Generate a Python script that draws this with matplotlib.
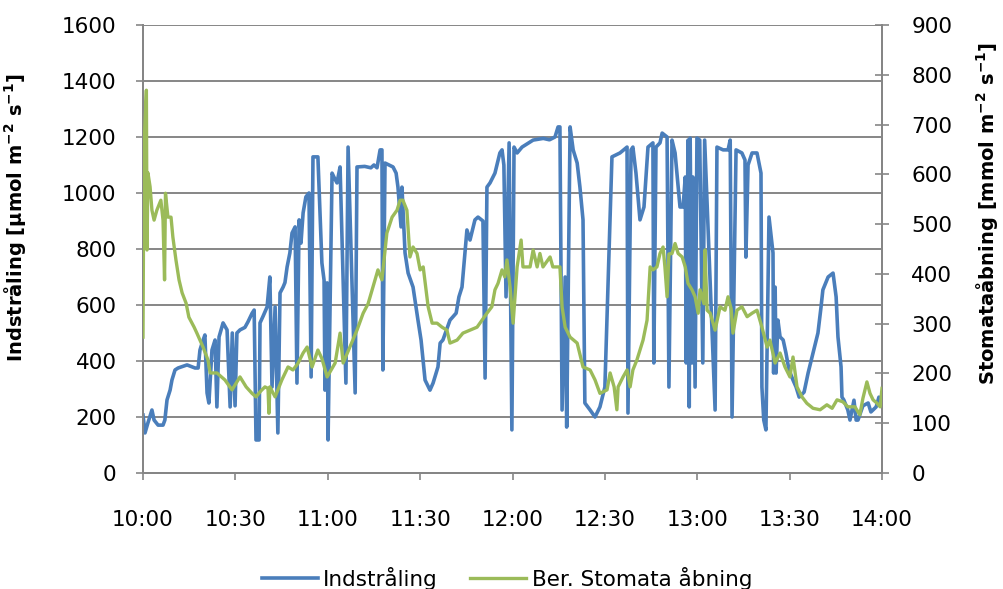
import matplotlib
matplotlib.use("Agg")
import matplotlib.pyplot as plt
from matplotlib.ticker import FixedLocator

# minutes after 10:00
blue_t = [0.0, 0.65, 1.6, 2.9, 3.6, 4.9, 6.5, 7.1, 7.8, 8.8, 9.4, 10.4, 11.4, 14.3, 16.9, 17.9,
          18.5, 19.2, 20.1, 20.8, 21.4, 22.4, 23.4, 24.0, 24.7, 26.0, 27.3, 28.3, 29.0, 29.9, 30.5,
          31.5, 33.1, 34.1, 35.4, 36.1, 36.7, 37.7, 38.0, 39.0, 40.3, 41.2, 41.9, 42.9, 43.8, 44.5,
          45.5, 46.1, 46.8, 47.7, 48.4, 49.4, 50.0, 50.7, 51.3, 52.0, 52.9, 53.9, 54.6, 55.2, 56.8,
          58.1, 58.8, 59.1, 59.8, 60.1, 61.4, 62.0, 63.0, 64.0, 65.9, 66.6, 68.9, 69.5, 72.0, 74.0,
          75.0, 76.0, 77.0, 77.6, 77.9, 78.6, 81.2, 82.2, 82.8, 83.8, 84.1, 85.1, 86.1, 87.7, 89.3,
          90.3, 91.6, 93.2, 94.2, 95.8, 96.5, 97.4, 99.7, 101.7, 102.6, 103.6, 105.2, 106.2, 107.8,
          108.8, 110.4, 111.1, 111.7, 112.7, 114.3, 115.9, 116.6, 117.2, 117.9, 118.9, 119.8, 120.5,
          121.5, 123.1, 126.7, 130.0, 132.0, 133.8, 134.8, 135.4, 136.1, 137.1, 137.6, 138.7, 139.7,
          141.0, 141.9, 142.9, 143.5, 145.2, 146.8, 148.4, 150.0, 152.3, 154.9, 157.2, 157.5, 158.5,
          159.1, 160.1, 161.4, 162.7, 164.0, 165.6, 165.9, 166.6, 167.9, 168.6, 170.2, 170.8, 171.8,
          172.8, 174.4, 175.4, 176.1, 176.4, 177.0, 177.4, 177.7, 178.3, 178.6, 179.3, 179.9, 180.8,
          181.8, 182.4, 185.8, 186.4, 188.4, 190.0, 190.7, 191.3, 192.6, 194.5, 195.5, 195.8, 196.5,
          197.8, 199.4, 200.7, 201.0, 201.6, 202.3, 203.3, 204.6, 204.8, 205.3, 205.6, 206.2, 206.9,
          207.9, 208.8, 209.8, 211.1, 212.1, 213.1, 214.7, 216.0, 217.6, 219.2, 220.2, 220.8, 222.5,
          224.1, 225.1, 225.7, 226.7, 227.0, 227.6, 228.9, 229.6, 230.9, 231.6, 232.2, 233.8, 235.5,
          236.4, 238.1, 239.0, 240.0]
blue_v = [207, 143, 179, 225, 189, 171, 171, 189, 261, 296, 332, 368, 375, 386, 375, 375,
          439, 464, 493, 286, 250, 439, 475, 236, 486, 536, 511, 236, 500, 240, 500,
          511, 520, 540, 570, 582, 118, 118, 536, 560, 593, 700, 307, 593, 143, 643,
          664, 680, 736, 786, 857, 879, 321, 904, 821, 929, 986, 1000, 343, 1129, 1129,
          750, 689, 296, 679, 118, 1071, 1057, 1036, 1093, 321, 1164, 286, 1093, 1095, 1090,
          1100, 1090, 1154, 1154, 368, 1107, 1093, 1071, 1021, 879, 1021, 786, 714, 664, 546,
          475, 332, 296, 321, 379, 464, 475, 546, 571, 629, 664, 868, 832, 904,
          914, 900, 339, 1021, 1036, 1071, 1143, 1154, 1100, 629, 1179, 154, 1164,
          1143, 1164, 1189, 1195, 1190, 1200, 1236, 1236, 225, 700, 164, 1236, 1154,
          1107, 1021, 904, 250, 225, 200, 236, 307, 1129, 1143, 1164, 214, 1154,
          1164, 1071, 904, 950, 1164, 1179, 393, 1164, 1179, 1214, 1200, 307, 1189,
          1143, 950, 950, 1057, 393, 1189, 236, 1196, 393, 1057, 307, 1196, 1189,
          393, 1189, 225, 1164, 1154, 1154, 1189, 200, 1154, 1143, 1118, 771, 1100,
          1143, 1143, 1071, 307, 189, 154, 914, 786, 357, 664, 357, 546, 486,
          475, 429, 368, 332, 307, 271, 289, 357, 429, 500, 593, 654, 700,
          714, 629, 486, 379, 271, 261, 225, 189, 260, 189, 189, 240, 250,
          218, 236, 271, 260]

green_t = [0.0, 0.3, 1.1, 1.3, 1.6, 2.3, 2.9, 3.6, 4.5, 5.8, 6.5, 7.0, 7.3, 8.1, 9.1, 9.7, 10.7,
           11.7, 12.7, 14.0, 14.9, 16.6, 17.5, 19.5, 21.1, 21.8, 24.0, 26.6, 28.9, 30.2, 31.5, 33.5,
           35.4, 36.7, 38.3, 39.6, 40.6, 40.9, 41.2, 42.9, 45.1, 47.1, 48.7, 50.3, 52.0, 53.3, 54.9,
           56.8, 58.1, 59.8, 62.4, 64.0, 65.0, 67.2, 69.5, 71.5, 73.1, 74.7, 76.3, 77.6, 79.2, 80.9,
           82.5, 83.5, 84.4, 85.7, 86.7, 87.7, 89.0, 90.0, 91.0, 92.6, 93.9, 95.5, 97.1, 98.7, 99.7,
           102.0, 103.9, 106.2, 108.5, 110.1, 111.7, 113.3, 114.3, 115.3, 116.6, 117.5, 118.2, 119.2,
           120.2, 121.5, 122.8, 123.4, 125.7, 126.7, 128.0, 128.9, 129.9, 132.2, 133.1, 135.4, 136.1,
           137.1, 138.7, 141.0, 142.9, 145.2, 146.8, 148.4, 150.7, 151.7, 153.0, 153.9, 154.3, 155.9,
           157.2, 158.2, 159.1, 160.4, 161.4, 162.4, 163.7, 164.7, 165.6, 166.9, 167.9, 168.9, 169.5,
           170.2, 170.8, 171.8, 172.8, 173.8, 175.1, 176.1, 177.0, 178.3, 179.3, 180.3, 180.9, 182.2,
           182.5, 183.2, 184.2, 185.8, 187.4, 189.0, 190.0, 191.0, 191.6, 192.9, 194.5, 196.2, 197.8,
           199.4, 201.0, 202.7, 203.6, 205.3, 206.9, 208.5, 210.1, 211.1, 212.4, 214.0, 215.6, 217.6,
           219.9, 222.1, 223.8, 225.4, 227.3, 228.9, 231.2, 232.8, 233.8, 235.1, 236.1, 237.1, 238.4,
           239.4, 240.0]
green_v = [273, 649, 769, 448, 603, 575, 528, 508, 528, 548, 508, 388, 562, 514, 514, 474, 428,
           388, 362, 341, 313, 293, 281, 253, 227, 201, 201, 187, 167, 180, 193, 173,
           160, 153, 165, 173, 170, 120, 173, 153, 187, 213, 207, 220, 241, 253, 213,
           247, 230, 193, 221, 281, 221, 253, 287, 321, 340, 374, 408, 388, 482, 514,
           528, 548, 548, 528, 434, 454, 441, 408, 414, 334, 301, 301, 293, 287, 261,
           267, 281, 287, 293, 307, 321, 334, 368, 381, 408, 394, 428, 374,
           301, 414, 468, 414, 414, 448, 414, 441, 414, 434, 414, 414, 334,
           293, 273, 261, 213, 207, 187, 160, 167, 201, 173, 127, 173, 193,
           207, 173, 207, 227, 247, 267, 307, 414, 408, 414, 441, 454, 414,
           354, 440, 441, 461, 441, 434, 414, 381, 368, 354, 321, 368, 340,
           448, 327, 321, 287, 334, 327, 354, 330, 281, 327, 334, 314, 321,
           327, 293, 253, 267, 221, 241, 213, 193, 233, 173, 153, 140, 130,
           127, 137, 130, 147, 143, 133, 133, 117, 150, 183, 160, 147, 140,
           133, 170]

x_ticks = [0, 30, 60, 90, 120, 150, 180, 210, 240]
x_labels = ["10:00", "10:30", "11:00", "11:30", "12:00", "12:30", "13:00", "13:30", "14:00"]
left_ticks = list(range(0, 1601, 200))
right_ticks = list(range(0, 901, 100))

BLUE = "#4A7EBB"
GREEN = "#9BBB59"
GRID = "#868686"
FS = 15.5

plt.rcParams['font.family'] = ['DejaVu Sans']

fig = plt.figure(figsize=(10.04, 5.89), dpi=100)
ax = fig.add_axes([143/1004, 1-473/589, (882-143)/1004, (473-25)/589])
ax2 = ax.twinx()

l1, = ax.plot(blue_t, blue_v, color=BLUE, lw=2.6, solid_joinstyle='round', label="Indstråling", zorder=2)
l2, = ax2.plot(green_t, green_v, color=GREEN, lw=2.4, solid_joinstyle='round', label="Ber. Stomata åbning", zorder=3)

ax.set_xlim(0, 240)
ax.set_ylim(0, 1600)
ax2.set_ylim(0, 900)
ax.set_yticks(left_ticks)
ax2.set_yticks(right_ticks)
ax.xaxis.set_major_locator(FixedLocator(x_ticks))
ax.set_xticklabels(x_labels)

ax.grid(axis='y', color=GRID, lw=1.4)
ax.set_axisbelow(True)
ax.spines['top'].set_visible(False)
ax2.spines['top'].set_visible(False)
for a in (ax, ax2):
    for sp in ['left', 'right', 'bottom']:
        a.spines[sp].set_color(GRID)
        a.spines[sp].set_linewidth(1.4)

ax.tick_params(axis='y', direction='out', length=5, width=1.2, color=GRID, pad=14, labelsize=FS)
ax.tick_params(axis='x', direction='out', length=5, width=1.2, color=GRID, pad=22, labelsize=FS)
ax2.tick_params(axis='y', direction='inout', length=10, width=1.2, color=GRID, pad=16, labelsize=FS)

ax.set_ylabel(r"Indstråling [µmol m$^{\mathbf{-2}}$ s$^{\mathbf{-1}}$]", fontsize=14, fontweight='bold')
ax.yaxis.set_label_coords(-0.155, 0.57)
ax2.set_ylabel(r"Stomataåbning [mmol m$^{\mathbf{-2}}$ s$^{\mathbf{-1}}$]", fontsize=14, fontweight='bold')
ax2.yaxis.set_label_coords(1.125, 0.58)

fig.legend(handles=[l1, l2], loc='center', bbox_to_anchor=(0.505, 1-578/589), ncol=2,
           frameon=False, fontsize=FS, handlelength=2.6, handletextpad=0.25, columnspacing=1.5)

fig.savefig("out.png", dpi=100)
